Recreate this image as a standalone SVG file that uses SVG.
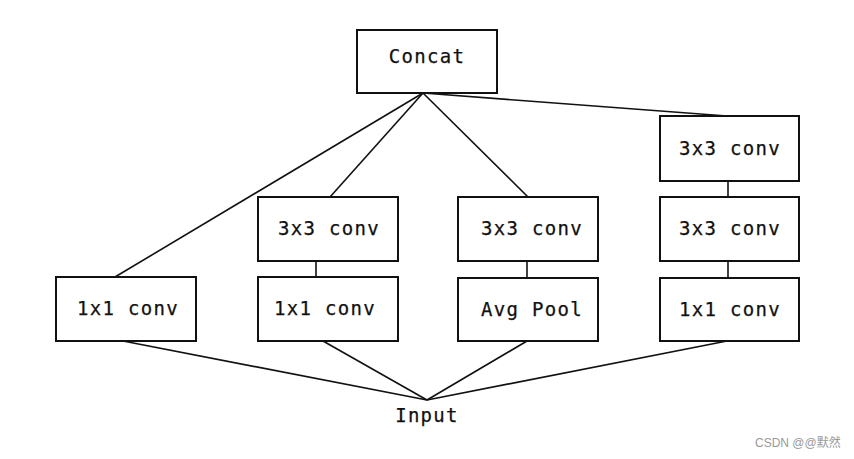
<svg xmlns="http://www.w3.org/2000/svg" width="854" height="459" viewBox="0 0 854 459">
<style>
.box{fill:#fff;stroke:#111;stroke-width:2}
.lbl{font-family:"DejaVu Sans Mono","Liberation Mono",monospace;font-size:19px;letter-spacing:1.3px;fill:#111;text-anchor:middle;stroke:#111;stroke-width:0.25}
.ln{stroke:#111;stroke-width:1.6;fill:none}
.wm{font-family:"Liberation Sans","Noto Sans CJK SC",sans-serif;font-size:12px;fill:#999}
</style>
<rect width="854" height="459" fill="#fff"/>
<g id="connectors">
<line class="ln" x1="423" y1="93" x2="115" y2="277"/>
<line class="ln" x1="423" y1="93" x2="330" y2="197"/>
<line class="ln" x1="423" y1="93" x2="528" y2="197"/>
<line class="ln" x1="423" y1="93" x2="727" y2="116"/>
<line class="ln" x1="316" y1="261" x2="316" y2="277"/>
<line class="ln" x1="527" y1="261" x2="527" y2="278"/>
<line class="ln" x1="728" y1="181" x2="728" y2="197"/>
<line class="ln" x1="728" y1="261" x2="728" y2="278"/>
<line class="ln" x1="123" y1="341" x2="427" y2="400"/>
<line class="ln" x1="323" y1="341" x2="427" y2="400"/>
<line class="ln" x1="527" y1="341" x2="427" y2="400"/>
<line class="ln" x1="727" y1="341" x2="427" y2="400"/>
</g>
<g id="concat"><rect class="box" x="357" y="30" width="140" height="63"/><text class="lbl" x="427" y="63">Concat</text></g>
<g id="b1_1x1"><rect class="box" x="56" y="277" width="140" height="64"/><text class="lbl" x="128" y="315">1x1 conv</text></g>
<g id="b2_3x3"><rect class="box" x="258" y="197" width="140" height="64"/><text class="lbl" x="329" y="235">3x3 conv</text></g>
<g id="b2_1x1"><rect class="box" x="258" y="277" width="140" height="64"/><text class="lbl" x="325" y="315">1x1 conv</text></g>
<g id="b3_3x3"><rect class="box" x="458" y="197" width="140" height="64"/><text class="lbl" x="532" y="235">3x3 conv</text></g>
<g id="b3_pool"><rect class="box" x="458" y="278" width="140" height="63"/><text class="lbl" x="532" y="316">Avg Pool</text></g>
<g id="b4_3x3a"><rect class="box" x="660" y="116" width="139" height="65"/><text class="lbl" x="730" y="155">3x3 conv</text></g>
<g id="b4_3x3b"><rect class="box" x="660" y="197" width="139" height="64"/><text class="lbl" x="730" y="235">3x3 conv</text></g>
<g id="b4_1x1"><rect class="box" x="660" y="278" width="139" height="63"/><text class="lbl" x="730" y="316">1x1 conv</text></g>
<g id="input"><text class="lbl" x="427" y="422">Input</text></g>
<text class="wm" x="755" y="447">CSDN @@默然</text>
</svg>
